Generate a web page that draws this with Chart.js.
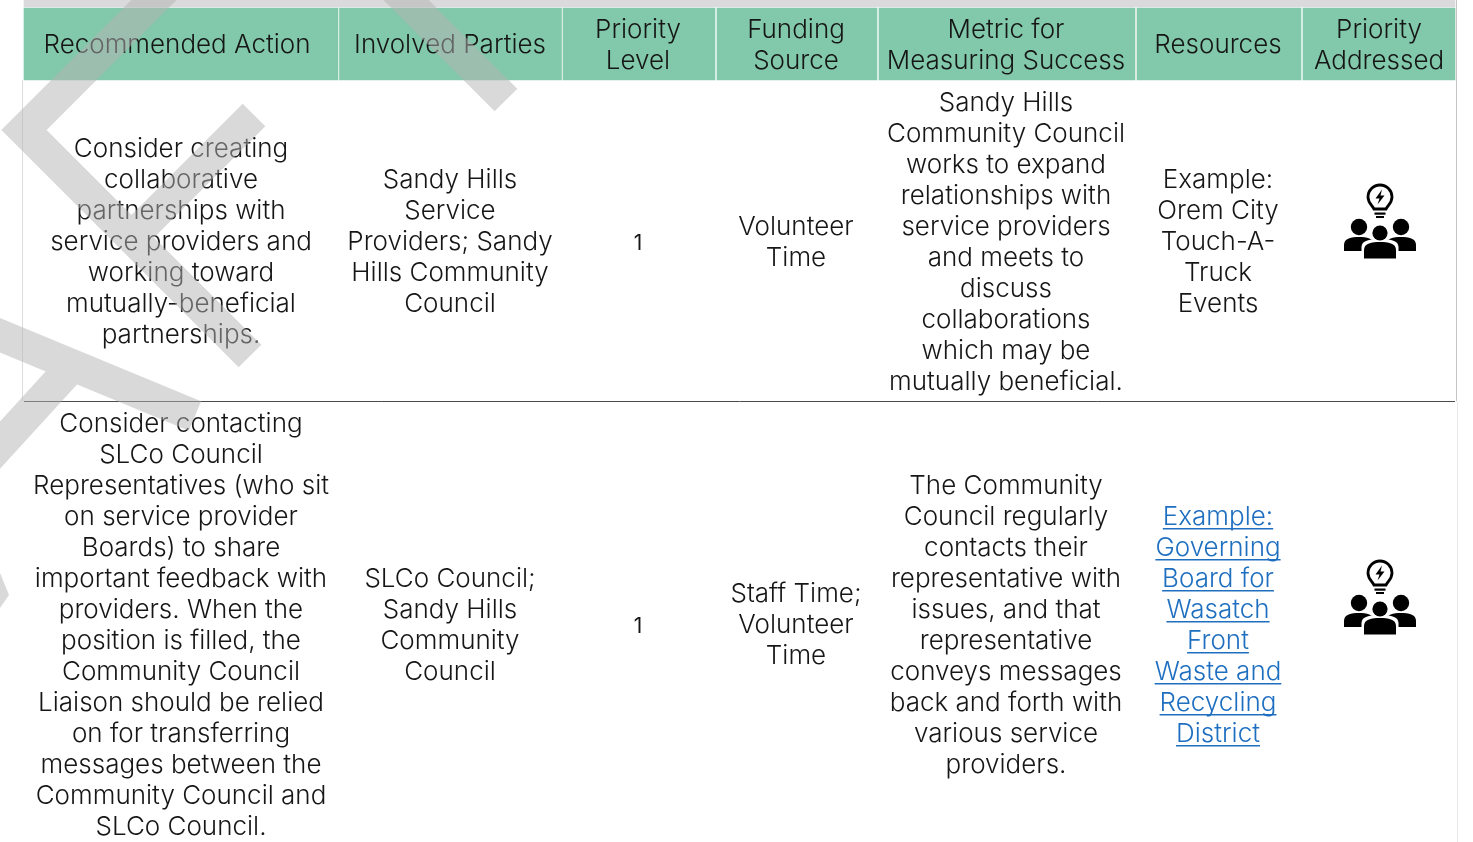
<!DOCTYPE html>
<html>
<head>
<meta charset="utf-8">
<title>Recommended actions</title>
<script src="https://cdn.jsdelivr.net/npm/chart.js@4/dist/chart.umd.js"></script>
<style>
  html, body { margin: 0; padding: 0; background: #fff; overflow: hidden; }
  canvas { display: block; }
</style>
</head>
<body>
<canvas id="tableChart" width="1473" height="842"></canvas>
<script>
// table content, one entry per visual line
const headerLabels = [
  ['Recommended Action'],
  ['Involved Parties'],
  ['Priority', 'Level'],
  ['Funding', 'Source'],
  ['Metric for', 'Measuring Success'],
  ['Resources'],
  ['Priority', 'Addressed']
];
const rowOneCells = [
  ['Consider creating', 'collaborative', 'partnerships with', 'service providers and', 'working toward', 'mutually-beneficial', 'partnerships.'],
  ['Sandy Hills', 'Service', 'Providers; Sandy', 'Hills Community', 'Council'],
  ['1'],
  ['Volunteer', 'Time'],
  ['Sandy Hills', 'Community Council', 'works to expand', 'relationships with', 'service providers', 'and meets to', 'discuss', 'collaborations', 'which may be', 'mutually beneficial.'],
  ['Example:', 'Orem City', 'Touch-A-', 'Truck', 'Events']
];
const rowTwoCells = [
  ['Consider contacting', 'SLCo Council', 'Representatives (who sit', 'on service provider', 'Boards) to share', 'important feedback with', 'providers. When the', 'position is filled, the', 'Community Council', 'Liaison should be relied', 'on for transferring', 'messages between the', 'Community Council and', 'SLCo Council.'],
  ['SLCo Council;', 'Sandy Hills', 'Community', 'Council'],
  ['1'],
  ['Staff Time;', 'Volunteer', 'Time'],
  ['The Community', 'Council regularly', 'contacts their', 'representative with', 'issues, and that', 'representative', 'conveys messages', 'back and forth with', 'various service', 'providers.'],
  ['Example:', 'Governing', 'Board for', 'Wasatch', 'Front', 'Waste and', 'Recycling', 'District']
];
const rowOneLinks = [false, false, false, false, false, false];
const rowTwoLinks = [false, false, false, false, false, true];

// scale values of the grid (the axes run 0-1473 and 0-842)
const columnStarts = [24, 339.5, 563, 717, 879, 1137, 1303];
const columnEnds = [338, 561.5, 715, 877, 1135, 1301, 1455];
const headerCentres = [177, 450, 638, 796, 1006, 1218, 1379];
const bodyCentres = [181, 450, 638, 796, 1006, 1218];
const rowCentres = [242.5, 625.5];
const iconX = [1380, 1380];
const iconY = [224, 600];

// watermark strokes, null breaks the path
const watermarkX = [174, 24, 250, null, 254, 130, null, 386, 506, null, -20, 195, null, 75, -20];
const watermarkY = [-20, 130, 356, null, 115, 239, null, -20, 100, null, 327, 416, null, 363, 467];
const watermarkFootX = [0, 9, 0];
const watermarkFootY = [573, 595, 608];

const LINE_HEIGHT = 31;
const FONT = '300 26px Inter, "Open Sans", sans-serif';
const DIGIT_FONT = '400 21px Inter, "Open Sans", sans-serif';
const TEXT_COLOR = '#161616';
const LINK_COLOR = '#1f6fc0';

function makeIcon() {
  const c = document.createElement('canvas');
  c.width = 100;
  c.height = 100;
  const g = c.getContext('2d');
  g.fillStyle = '#000';
  g.strokeStyle = '#000';

  // bulb
  g.lineWidth = 2.8;
  g.beginPath();
  g.moveTo(44, 35);
  g.bezierCurveTo(42, 31, 38, 29, 38, 23);
  g.arc(50, 23, 12, Math.PI, 0);
  g.bezierCurveTo(62, 29, 58, 31, 56, 35);
  g.closePath();
  g.stroke();
  g.fillRect(44.5, 38.5, 11, 2.2);
  g.fillRect(46, 42, 8, 2);

  // lightning
  g.beginPath();
  g.moveTo(52, 15.5);
  g.lineTo(45.5, 24.5);
  g.lineTo(49.5, 24.5);
  g.lineTo(47.5, 30.5);
  g.lineTo(54.5, 21.5);
  g.lineTo(50.5, 21.5);
  g.closePath();
  g.fill();

  // side people
  const body = (x, w, top, bottom) => {
    g.beginPath();
    g.moveTo(x - w, bottom);
    g.lineTo(x - w, top + 8);
    g.bezierCurveTo(x - w, top + 1, x - w * 0.5, top, x, top);
    g.bezierCurveTo(x + w * 0.5, top, x + w, top + 1, x + w, top + 8);
    g.lineTo(x + w, bottom);
    g.closePath();
    g.fill();
  };
  [29, 71].forEach((x) => {
    g.beginPath();
    g.arc(x, 53, 8.2, 0, Math.PI * 2);
    g.fill();
    body(x, 15, 63, 77);
  });

  // white halo, then the middle person
  g.fillStyle = '#fff';
  g.beginPath();
  g.arc(50, 59, 10, 0, Math.PI * 2);
  g.fill();
  body(50, 18.5, 65, 86);
  g.fillStyle = '#000';
  g.beginPath();
  g.arc(50, 59, 7.6, 0, Math.PI * 2);
  g.fill();
  body(50, 16, 68, 84.5);
  return c;
}

function drawCell(ctx, scales, lines, centreX, centreY, link) {
  const x = scales.x.getPixelForValue(centreX);
  const isDigit = lines[0] === '1';
  const firstY = centreY - (lines.length - 1) * LINE_HEIGHT / 2 + (isDigit ? 1 : 0);
  ctx.fillStyle = link ? LINK_COLOR : TEXT_COLOR;
  ctx.font = isDigit ? DIGIT_FONT : FONT;
  lines.forEach((line, i) => {
    const y = scales.y.getPixelForValue(firstY + i * LINE_HEIGHT);
    ctx.fillText(line, x, y);
    if (link) {
      const w = ctx.measureText(line).width;
      ctx.fillRect(x - w / 2, y + 11, w, 1.5);
    }
  });
}

// text sits under the watermark, so it has to go in between the datasets
const tableTextPlugin = {
  id: 'tableText',
  beforeDatasetDraw(chart, args) {
    if (chart.data.datasets[args.index].label !== 'Watermark foot') return;
    const ctx = chart.ctx;
    const scales = chart.scales;
    ctx.save();
    ctx.textAlign = 'center';
    ctx.textBaseline = 'middle';
    headerLabels.forEach((lines, i) => drawCell(ctx, scales, lines, headerCentres[i], 45.5, false));
    rowOneCells.forEach((lines, i) => drawCell(ctx, scales, lines, bodyCentres[i], rowCentres[0], rowOneLinks[i]));
    rowTwoCells.forEach((lines, i) => drawCell(ctx, scales, lines, bodyCentres[i], rowCentres[1], rowTwoLinks[i]));
    ctx.restore();
  }
};

const line = (xs, ys) => xs.map((x, i) => ({ x: x, y: ys[i] }));

new Chart(document.getElementById('tableChart'), {
  type: 'bar',
  plugins: [tableTextPlugin],
  data: {
    datasets: [
      {
        label: 'Header',
        indexAxis: 'y',
        grouped: false,
        order: 3,
        barThickness: 72,
        backgroundColor: '#82c9ab',
        data: columnStarts.map((s, i) => ({ x: [s, columnEnds[i]], y: 44 }))
      },
      {
        label: 'Top strip',
        indexAxis: 'y',
        grouped: false,
        order: 3,
        barThickness: 7,
        backgroundColor: '#dad9db',
        data: [{ x: [24, 1455], y: 3.5 }]
      },
      {
        type: 'scatter', label: 'Row rule', order: 2, showLine: true, pointRadius: 0,
        borderColor: '#4a4a4a', borderWidth: 1,
        data: line([24, 1455], [401.5, 401.5])
      },
      {
        type: 'scatter', label: 'Left border', order: 2, showLine: true, pointRadius: 0,
        borderColor: '#dcdcdc', borderWidth: 1,
        data: line([22.5, 22.5], [80, 401])
      },
      {
        type: 'scatter', label: 'Right border one', order: 2, showLine: true, pointRadius: 0,
        borderColor: '#c4c4c4', borderWidth: 1,
        data: line([1456.5, 1456.5], [0, 401])
      },
      {
        type: 'scatter', label: 'Right border two', order: 2, showLine: true, pointRadius: 0,
        borderColor: '#ebebeb', borderWidth: 1,
        data: line([1457.5, 1457.5], [401, 842])
      },
      {
        type: 'scatter', label: 'Icons', order: 2, showLine: false,
        pointStyle: makeIcon(), pointRadius: 1,
        data: line(iconX, iconY)
      },
      {
        type: 'scatter', label: 'Watermark', order: 0, showLine: true, pointRadius: 0,
        borderColor: 'rgba(180,180,180,0.5)', borderWidth: 32,
        borderJoinStyle: 'miter', borderCapStyle: 'butt', spanGaps: false,
        data: line(watermarkX, watermarkY)
      },
      {
        type: 'scatter', label: 'Watermark foot', order: 0, showLine: true, pointRadius: 0,
        backgroundColor: 'rgba(180,180,180,0.5)', borderWidth: 0, fill: 'shape',
        data: line(watermarkFootX, watermarkFootY)
      }
    ]
  },
  options: {
    responsive: false,
    animation: false,
    events: [],
    layout: { padding: 0, autoPadding: false },
    datasets: { bar: { indexAxis: 'y' } },
    plugins: { legend: { display: false }, tooltip: { enabled: false } },
    scales: {
      x: { type: 'linear', min: 0, max: 1473, offset: false, display: false },
      y: { type: 'linear', min: 0, max: 842, offset: false, reverse: true, display: false }
    }
  }
});
</script>
</body>
</html>
